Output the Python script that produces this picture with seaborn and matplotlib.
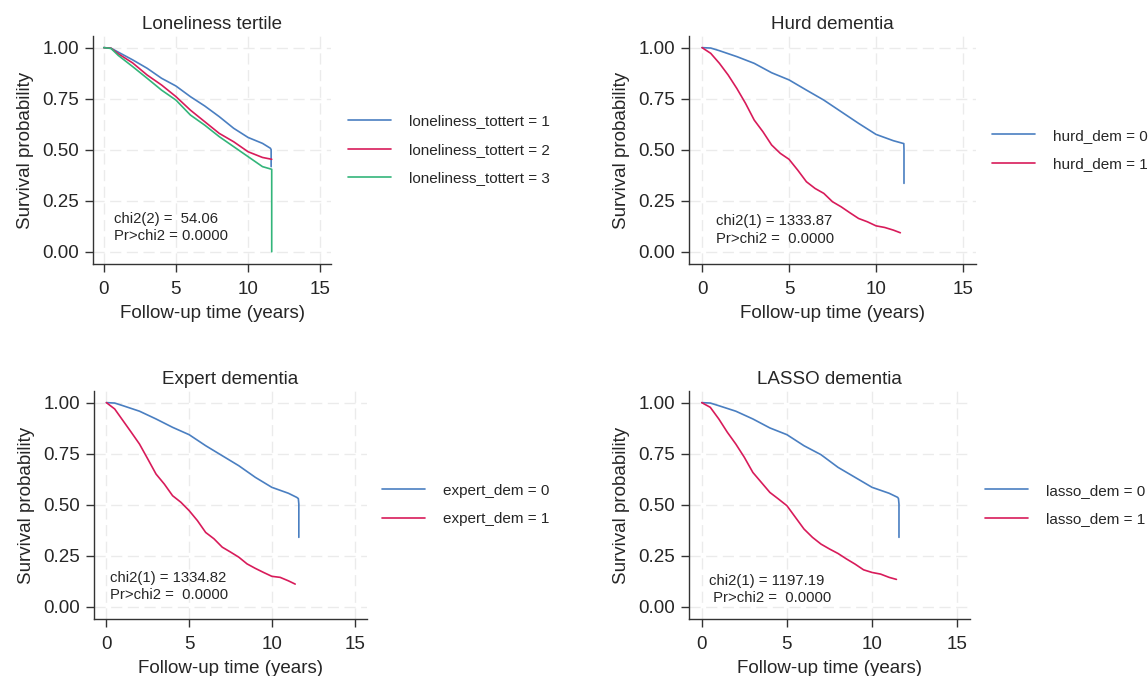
import pandas as pd
import seaborn as sns
import matplotlib.pyplot as plt

# Kaplan-Meier curves (time in years, survival probability)
# Loneliness tertile
lon1_t = [0, 0.5, 1, 2, 3, 4, 5, 6, 7, 8, 9, 10, 11, 11.55, 11.6, 11.6]
lon1_s = [1, 0.997, 0.978, 0.94, 0.899, 0.85, 0.812, 0.76, 0.714, 0.662, 0.605, 0.56, 0.531, 0.507, 0.5, 0.417]
lon2_t = [0, 0.5, 1, 2, 3, 4, 5, 6, 7, 8, 9, 10, 11, 11.64]
lon2_s = [1, 0.997, 0.97, 0.925, 0.866, 0.817, 0.76, 0.694, 0.637, 0.58, 0.539, 0.49, 0.462, 0.453]
lon3_t = [0, 0.5, 1, 2, 3, 4, 5, 6, 7, 8, 9, 10, 11, 11.64, 11.64]
lon3_s = [1, 0.996, 0.962, 0.907, 0.85, 0.792, 0.743, 0.67, 0.62, 0.564, 0.515, 0.466, 0.417, 0.404, 0.0]

# Hurd dementia
hurd0_t = [0, 0.5, 1, 2, 3, 4, 5, 6, 7, 8, 9, 10, 11, 11.55, 11.6, 11.61, 11.61]
hurd0_s = [1, 0.998, 0.985, 0.956, 0.923, 0.877, 0.842, 0.792, 0.743, 0.686, 0.629, 0.575, 0.544, 0.531, 0.53, 0.5, 0.335]
hurd1_t = [0, 0.5, 1, 1.5, 2, 2.5, 3, 3.5, 4, 4.5, 5, 5.5, 6, 6.5, 7, 7.5, 8, 8.5, 9, 9.5, 10, 10.5, 11, 11.4]
hurd1_s = [1, 0.972, 0.923, 0.866, 0.8, 0.727, 0.645, 0.588, 0.523, 0.482, 0.453, 0.4, 0.343, 0.31, 0.286,
           0.245, 0.22, 0.191, 0.163, 0.147, 0.127, 0.119, 0.106, 0.093]

# Expert dementia
exp0_t = [0, 0.5, 1, 2, 3, 4, 5, 6, 7, 8, 9, 10, 11, 11.5, 11.6, 11.63, 11.63]
exp0_s = [1, 0.998, 0.985, 0.958, 0.92, 0.879, 0.843, 0.789, 0.74, 0.691, 0.634, 0.585, 0.556, 0.536, 0.53, 0.503, 0.34]
exp1_t = [0, 0.5, 1, 1.5, 2, 2.5, 3, 3.5, 4, 4.5, 5, 5.5, 6, 6.5, 7, 7.5, 8, 8.5, 9, 9.5, 10, 10.5, 11, 11.41]
exp1_s = [1, 0.969, 0.912, 0.855, 0.797, 0.724, 0.65, 0.601, 0.544, 0.512, 0.471, 0.422, 0.364, 0.333, 0.292,
          0.268, 0.243, 0.21, 0.188, 0.168, 0.149, 0.144, 0.127, 0.111]

# LASSO dementia
las0_t = [0, 0.5, 1, 2, 3, 4, 5, 6, 7, 8, 9, 10, 11, 11.5, 11.55, 11.58, 11.58]
las0_s = [1, 0.998, 0.985, 0.958, 0.92, 0.876, 0.843, 0.789, 0.745, 0.683, 0.634, 0.585, 0.556, 0.536, 0.53, 0.503, 0.34]
las1_t = [0, 0.5, 1, 1.5, 2, 2.5, 3, 3.5, 4, 4.5, 5, 5.5, 6, 6.5, 7, 7.5, 8, 8.5, 9, 9.5, 10, 10.5, 11, 11.43]
las1_s = [1, 0.977, 0.92, 0.855, 0.797, 0.732, 0.658, 0.609, 0.56, 0.528, 0.495, 0.438, 0.381, 0.34, 0.307,
          0.283, 0.261, 0.234, 0.209, 0.181, 0.168, 0.16, 0.144, 0.134]

titles = ["Loneliness tertile", "Hurd dementia", "Expert dementia", "LASSO dementia"]
stats = [("chi2(2) =  54.06", "Pr>chi2 = 0.0000"),
         ("chi2(1) = 1333.87", "Pr>chi2 =  0.0000"),
         ("chi2(1) = 1334.82", "Pr>chi2 =  0.0000"),
         ("chi2(1) = 1197.19", " Pr>chi2 =  0.0000")]

blue, red, green = "#4a7fc1", "#d81b5a", "#33b57a"

panels = [
    {"curves": [("loneliness_tottert = 1", lon1_t, lon1_s),
                ("loneliness_tottert = 2", lon2_t, lon2_s),
                ("loneliness_tottert = 3", lon3_t, lon3_s)],
     "colors": [blue, red, green],
     "rect": (93, 36, 331, 264), "leg": (348, 150), "txt": (0.72, 0.12)},
    {"curves": [("hurd_dem = 0", hurd0_t, hurd0_s), ("hurd_dem = 1", hurd1_t, hurd1_s)],
     "colors": [blue, red],
     "rect": (689, 36, 976, 264), "leg": (992, 150), "txt": (0.8, 0.106)},
    {"curves": [("expert_dem = 0", exp0_t, exp0_s), ("expert_dem = 1", exp1_t, exp1_s)],
     "colors": [blue, red],
     "rect": (94, 391, 367, 619), "leg": (382, 505), "txt": (0.2, 0.098)},
    {"curves": [("lasso_dem = 0", las0_t, las0_s), ("lasso_dem = 1", las1_t, las1_s)],
     "colors": [blue, red],
     "rect": (689, 391, 970, 619), "leg": (985, 505), "txt": (0.44, 0.084)},
]

sns.set_theme(style="ticks")
plt.rcParams["font.family"] = ["Liberation Sans", "DejaVu Sans"]
ink = "#262626"

W, H = 1148, 676
fig = plt.figure(figsize=(W / 100, H / 100), dpi=100)

for i, p in enumerate(panels):
    l, t, r, b = p["rect"]
    ax = fig.add_axes([l / W, (H - b) / H, (r - l) / W, (b - t) / H])

    rows = []
    for name, ts, ss in p["curves"]:
        for x, y in zip(ts, ss):
            rows.append({"time": x, "surv": y, "group": name})
    df = pd.DataFrame(rows)
    names = [c[0] for c in p["curves"]]

    sns.lineplot(data=df, x="time", y="surv", hue="group", hue_order=names,
                 palette=p["colors"], estimator=None, sort=False,
                 linewidth=1.2, ax=ax)

    ax.set_xlim(-0.75, 15.75)
    ax.set_ylim(-0.06, 1.057)
    ax.set_xticks([0, 5, 10, 15])
    ax.set_yticks([0, 0.25, 0.5, 0.75, 1.0])
    ax.set_yticklabels(["0.00", "0.25", "0.50", "0.75", "1.00"])
    ax.grid(True, color="#ebebeb", linestyle=(0, (8, 4)), linewidth=1.0)
    ax.set_axisbelow(True)
    for side in ["top", "right"]:
        ax.spines[side].set_visible(False)
    for side in ["left", "bottom"]:
        ax.spines[side].set_color("#333333")
        ax.spines[side].set_linewidth(1.0)
    ax.tick_params(direction="out", length=6, width=1.0, color="#333333",
                   labelsize=13.5, labelcolor=ink)
    ax.tick_params(axis="x", pad=6)
    ax.tick_params(axis="y", pad=4)

    ax.set_title(titles[i], fontsize=13.5, color=ink, pad=5)
    ax.set_xlabel("Follow-up time (years)", fontsize=13.5, color=ink, labelpad=5)
    ax.set_ylabel("Survival probability", fontsize=13.5, color=ink, labelpad=6)

    tx, ty = p["txt"]
    ax.text(tx, ty, stats[i][0] + "\n" + stats[i][1], fontsize=10.7, color=ink,
            ha="left", va="center", linespacing=1.3)

    handles, labels = ax.get_legend_handles_labels()
    lx, ly = p["leg"]
    ax.legend(handles, labels, loc="center left",
              bbox_to_anchor=(lx / W, (H - ly) / H), bbox_transform=fig.transFigure,
              frameon=False, fontsize=11, handlelength=2.8, handletextpad=1.2,
              labelspacing=0.95, borderpad=0, borderaxespad=0, labelcolor=ink)

fig.savefig("out.png", dpi=100)
